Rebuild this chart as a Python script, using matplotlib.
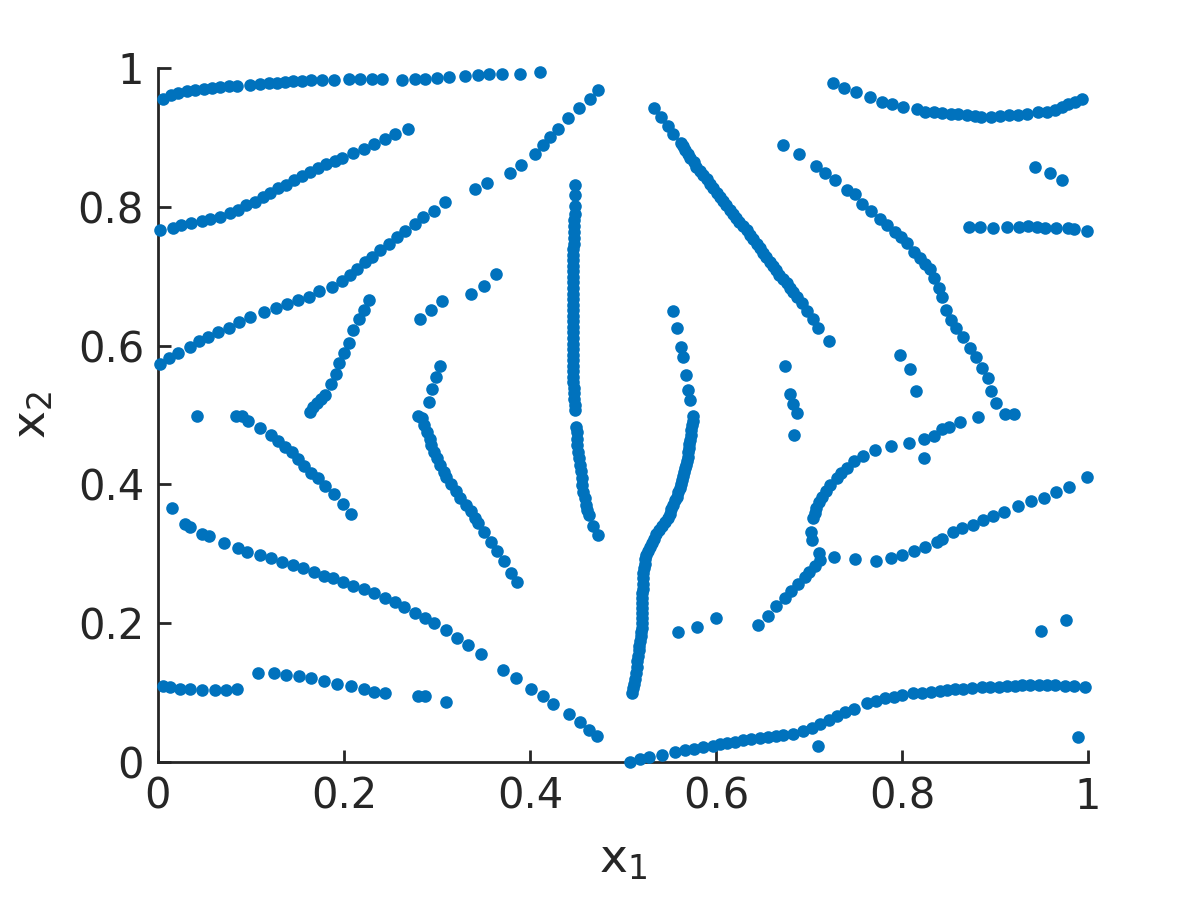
import matplotlib
matplotlib.use("Agg")
import matplotlib.pyplot as plt

# top-left band
a_x = [0.005, 0.014, 0.022, 0.031, 0.040, 0.049, 0.058, 0.067, 0.076, 0.085, 0.099, 0.110,
       0.119, 0.128, 0.137, 0.145, 0.155, 0.165, 0.176, 0.189, 0.205, 0.217, 0.230, 0.241,
       0.262, 0.276, 0.287, 0.300, 0.313, 0.330, 0.344, 0.356, 0.370, 0.389, 0.411]
a_y = [0.956, 0.961, 0.964, 0.967, 0.968, 0.970, 0.971, 0.972, 0.974, 0.974, 0.976, 0.977,
       0.978, 0.979, 0.980, 0.981, 0.981, 0.982, 0.982, 0.982, 0.984, 0.984, 0.984, 0.984,
       0.983, 0.984, 0.984, 0.985, 0.987, 0.989, 0.990, 0.991, 0.991, 0.992, 0.994]

b_x = [0.002, 0.016, 0.025, 0.036, 0.047, 0.056, 0.067, 0.077, 0.086, 0.095, 0.104, 0.113,
       0.120, 0.129, 0.138, 0.146, 0.155, 0.163, 0.172, 0.181, 0.190, 0.198, 0.210, 0.221,
       0.232, 0.244, 0.255, 0.269]
b_y = [0.767, 0.770, 0.774, 0.776, 0.779, 0.782, 0.786, 0.791, 0.796, 0.802, 0.807, 0.814,
       0.820, 0.827, 0.832, 0.839, 0.844, 0.850, 0.856, 0.862, 0.866, 0.871, 0.877, 0.884,
       0.890, 0.898, 0.905, 0.912]

c_x = [0.002, 0.012, 0.022, 0.034, 0.044, 0.054, 0.064, 0.076, 0.087, 0.099, 0.114, 0.127,
       0.139, 0.150, 0.162, 0.173, 0.187, 0.198, 0.206, 0.214, 0.223, 0.230, 0.239, 0.248,
       0.257, 0.266, 0.276, 0.285, 0.297, 0.309, 0.341, 0.354, 0.378, 0.390, 0.405, 0.414,
       0.422, 0.430, 0.441, 0.453, 0.464, 0.473]
c_y = [0.574, 0.582, 0.589, 0.598, 0.606, 0.613, 0.619, 0.626, 0.634, 0.641, 0.648, 0.654,
       0.660, 0.666, 0.670, 0.679, 0.685, 0.693, 0.702, 0.710, 0.720, 0.728, 0.738, 0.747,
       0.757, 0.765, 0.775, 0.785, 0.794, 0.807, 0.825, 0.834, 0.849, 0.860, 0.876, 0.889,
       0.900, 0.912, 0.928, 0.943, 0.956, 0.968]

d_x = [0.282, 0.294, 0.305, 0.337, 0.351, 0.363]
d_y = [0.638, 0.651, 0.664, 0.674, 0.686, 0.703]

e_x = [0.163, 0.167, 0.171, 0.175, 0.180, 0.186, 0.191, 0.195, 0.200, 0.205, 0.210, 0.216,
       0.222, 0.227]
e_y = [0.505, 0.512, 0.517, 0.523, 0.529, 0.544, 0.559, 0.575, 0.589, 0.604, 0.623, 0.638,
       0.651, 0.666]

g_x = [0.042, 0.084, 0.090, 0.097, 0.110, 0.122, 0.129, 0.137, 0.144, 0.151, 0.157, 0.165,
       0.172, 0.180, 0.189, 0.199, 0.208]
g_y = [0.499, 0.499, 0.499, 0.491, 0.481, 0.471, 0.463, 0.454, 0.446, 0.437, 0.427, 0.417,
       0.409, 0.398, 0.386, 0.372, 0.358]

h_x = [0.015, 0.029, 0.034, 0.047, 0.055, 0.071, 0.086, 0.096, 0.110, 0.121, 0.133, 0.145,
       0.156, 0.168, 0.178, 0.188, 0.199, 0.210, 0.221, 0.232, 0.244, 0.255, 0.264, 0.276,
       0.287, 0.297, 0.310, 0.321, 0.333, 0.347, 0.371, 0.385, 0.401, 0.414, 0.425, 0.442,
       0.454, 0.463, 0.472]
h_y = [0.366, 0.343, 0.338, 0.329, 0.326, 0.315, 0.308, 0.303, 0.298, 0.294, 0.288, 0.284,
       0.279, 0.274, 0.268, 0.265, 0.259, 0.253, 0.249, 0.243, 0.236, 0.231, 0.223, 0.214,
       0.207, 0.200, 0.190, 0.178, 0.168, 0.155, 0.133, 0.121, 0.105, 0.095, 0.084, 0.069,
       0.057, 0.046, 0.037]

i_x = [0.005, 0.013, 0.024, 0.034, 0.047, 0.061, 0.073, 0.085]
i_y = [0.109, 0.108, 0.105, 0.105, 0.104, 0.104, 0.104, 0.105]

j_x = [0.107, 0.125, 0.138, 0.152, 0.165, 0.178, 0.193, 0.208, 0.221, 0.232, 0.244, 0.280,
       0.287, 0.310]
j_y = [0.128, 0.128, 0.126, 0.124, 0.121, 0.116, 0.112, 0.110, 0.105, 0.101, 0.099, 0.095,
       0.095, 0.086]

k_x = [0.303, 0.299, 0.295, 0.291, 0.280, 0.284, 0.286, 0.289, 0.292, 0.294, 0.297, 0.300,
       0.303, 0.307, 0.310, 0.315, 0.320, 0.325, 0.331, 0.337, 0.341, 0.344, 0.351, 0.358,
       0.365, 0.372, 0.380, 0.386]
k_y = [0.570, 0.555, 0.538, 0.519, 0.499, 0.496, 0.486, 0.476, 0.466, 0.457, 0.447, 0.438,
       0.428, 0.418, 0.410, 0.401, 0.390, 0.380, 0.370, 0.361, 0.352, 0.344, 0.332, 0.317,
       0.304, 0.289, 0.273, 0.259]

# central vertical
l_x = [0.448, 0.448, 0.448, 0.448, 0.447, 0.447, 0.447, 0.447, 0.447, 0.446, 0.446, 0.446,
       0.446, 0.446, 0.446, 0.446, 0.446, 0.446, 0.446, 0.446, 0.446, 0.446, 0.446, 0.446,
       0.446, 0.446, 0.446, 0.446, 0.446, 0.446, 0.446, 0.446, 0.446, 0.446, 0.447, 0.447,
       0.447, 0.448, 0.448,
       0.449, 0.450, 0.451, 0.451, 0.452, 0.453, 0.454, 0.455, 0.456, 0.456, 0.457, 0.459,
       0.460, 0.461, 0.463, 0.468, 0.473]
l_y = [0.831, 0.817, 0.801, 0.790, 0.781, 0.772, 0.763, 0.755, 0.747, 0.739, 0.731, 0.723,
       0.715, 0.707, 0.699, 0.691, 0.683, 0.675, 0.667, 0.659, 0.651, 0.643, 0.635, 0.627,
       0.619, 0.611, 0.603, 0.595, 0.587, 0.579, 0.571, 0.563, 0.555, 0.547, 0.539, 0.531,
       0.523, 0.515, 0.507,
       0.483, 0.475, 0.466, 0.457, 0.447, 0.438, 0.428, 0.419, 0.409, 0.399, 0.389, 0.380,
       0.370, 0.363, 0.356, 0.340, 0.327]

# long diagonal right of centre
m_x = [0.533, 0.541, 0.548, 0.554, 0.562, 0.565, 0.567, 0.570, 0.572, 0.576, 0.579, 0.583,
       0.586, 0.590, 0.594, 0.597, 0.601, 0.604, 0.608, 0.611, 0.615, 0.618, 0.622, 0.625,
       0.629, 0.633, 0.637, 0.640, 0.644, 0.647, 0.651, 0.654, 0.658, 0.661, 0.665, 0.668,
       0.672, 0.676, 0.680, 0.683, 0.687, 0.692, 0.698, 0.704, 0.710, 0.721]
m_y = [0.943, 0.929, 0.916, 0.905, 0.892, 0.887, 0.882, 0.876, 0.871, 0.865, 0.858, 0.852,
       0.846, 0.840, 0.833, 0.827, 0.820, 0.814, 0.808, 0.802, 0.796, 0.790, 0.784, 0.778,
       0.772, 0.766, 0.760, 0.753, 0.747, 0.741, 0.734, 0.728, 0.721, 0.715, 0.709, 0.702,
       0.696, 0.690, 0.683, 0.677, 0.670, 0.661, 0.650, 0.638, 0.626, 0.606]

n_x = [0.554, 0.558, 0.562, 0.565, 0.568, 0.570, 0.572,
       0.575, 0.575, 0.574, 0.573, 0.573, 0.572, 0.571, 0.571, 0.570, 0.570, 0.569, 0.568,
       0.567, 0.566, 0.565, 0.563, 0.562, 0.561, 0.559, 0.558, 0.556, 0.554, 0.552, 0.550,
       0.548, 0.545, 0.542, 0.539, 0.536, 0.533, 0.531, 0.529, 0.527, 0.525, 0.524, 0.524,
       0.523, 0.522, 0.522, 0.521, 0.521, 0.520, 0.520, 0.520, 0.520, 0.520, 0.520, 0.520,
       0.520, 0.519, 0.519, 0.518, 0.517, 0.517, 0.516, 0.515, 0.515, 0.514, 0.513, 0.512,
       0.511, 0.510]
n_y = [0.650, 0.625, 0.598, 0.583, 0.558, 0.536, 0.521,
       0.499, 0.492, 0.485, 0.478, 0.471, 0.464, 0.458, 0.452, 0.446, 0.440, 0.434, 0.428,
       0.423, 0.418, 0.412, 0.406, 0.400, 0.395, 0.389, 0.382, 0.377, 0.371, 0.365, 0.358,
       0.352, 0.346, 0.340, 0.334, 0.328, 0.322, 0.316, 0.310, 0.304, 0.298, 0.292, 0.286,
       0.279, 0.272, 0.265, 0.257, 0.250, 0.243, 0.236, 0.229, 0.222, 0.214, 0.207, 0.200,
       0.193, 0.187, 0.181, 0.174, 0.167, 0.161, 0.153, 0.145, 0.137, 0.128, 0.120, 0.113,
       0.106, 0.099]

o_x = [0.559, 0.580, 0.600]
o_y = [0.187, 0.195, 0.207]

# lower-right branch and the row running to the right edge
p_x = [0.645, 0.656, 0.665, 0.674, 0.681, 0.688, 0.696, 0.700, 0.706, 0.712,
       0.727, 0.749, 0.772, 0.788, 0.800, 0.813, 0.825, 0.838, 0.843, 0.855, 0.865, 0.876,
       0.887, 0.898, 0.910, 0.925, 0.939, 0.953, 0.966, 0.980, 0.999]
p_y = [0.198, 0.211, 0.225, 0.236, 0.247, 0.256, 0.267, 0.274, 0.283, 0.291,
       0.296, 0.292, 0.290, 0.294, 0.298, 0.304, 0.310, 0.317, 0.321, 0.331, 0.337, 0.342,
       0.349, 0.354, 0.360, 0.369, 0.376, 0.381, 0.389, 0.396, 0.410]

q_x = [0.711, 0.703, 0.702, 0.704, 0.706, 0.708, 0.711, 0.714, 0.718, 0.723, 0.730, 0.734,
       0.741, 0.748, 0.758, 0.771, 0.788, 0.807, 0.824, 0.834, 0.843, 0.850, 0.862, 0.882,
       0.824]
q_y = [0.301, 0.320, 0.332, 0.351, 0.359, 0.366, 0.374, 0.382, 0.390, 0.399, 0.409, 0.416,
       0.424, 0.433, 0.441, 0.450, 0.456, 0.459, 0.465, 0.470, 0.480, 0.482, 0.490, 0.497,
       0.438]

r_x = [0.674, 0.680, 0.683, 0.687, 0.684]
r_y = [0.571, 0.530, 0.516, 0.503, 0.471]

s_x = [0.798, 0.809, 0.815]
s_y = [0.586, 0.567, 0.535]

t_x = [0.672, 0.689, 0.708, 0.717, 0.728, 0.741, 0.749, 0.757, 0.767, 0.776, 0.784, 0.792,
       0.799, 0.805, 0.813, 0.819, 0.825, 0.830, 0.834, 0.840, 0.843, 0.847, 0.853, 0.858,
       0.866, 0.873, 0.880, 0.886, 0.892, 0.896, 0.901, 0.911, 0.920]
t_y = [0.889, 0.876, 0.859, 0.849, 0.839, 0.824, 0.819, 0.804, 0.794, 0.782, 0.774, 0.764,
       0.756, 0.748, 0.735, 0.726, 0.718, 0.710, 0.697, 0.683, 0.670, 0.652, 0.637, 0.626,
       0.612, 0.597, 0.583, 0.568, 0.553, 0.535, 0.517, 0.502, 0.502]

u_x = [0.726, 0.738, 0.750, 0.766, 0.779, 0.789, 0.801, 0.816, 0.825, 0.834, 0.843, 0.853,
       0.860, 0.870, 0.878, 0.885, 0.896, 0.905, 0.915, 0.925, 0.934, 0.946, 0.956, 0.964,
       0.972, 0.979, 0.986, 0.994]
u_y = [0.978, 0.971, 0.965, 0.958, 0.951, 0.948, 0.944, 0.941, 0.937, 0.936, 0.935, 0.933,
       0.933, 0.932, 0.931, 0.930, 0.930, 0.931, 0.932, 0.932, 0.934, 0.936, 0.937, 0.940,
       0.944, 0.948, 0.951, 0.955]

v_x = [0.943, 0.959, 0.972]
v_y = [0.858, 0.848, 0.839]

w_x = [0.872, 0.884, 0.898, 0.913, 0.926, 0.936, 0.945, 0.954, 0.966, 0.979, 0.985, 0.999]
w_y = [0.771, 0.771, 0.770, 0.771, 0.771, 0.772, 0.771, 0.770, 0.770, 0.770, 0.768, 0.765]

# bottom-right band
x_x = [0.508, 0.518, 0.528, 0.542, 0.556, 0.567, 0.576, 0.586, 0.597, 0.604, 0.612, 0.620,
       0.629, 0.638, 0.647, 0.656, 0.665, 0.672, 0.683, 0.694, 0.703, 0.712, 0.721, 0.730,
       0.739, 0.748, 0.762, 0.772, 0.782, 0.791, 0.800, 0.812, 0.821, 0.831, 0.841, 0.848,
       0.857, 0.866, 0.875, 0.886, 0.895, 0.904, 0.913, 0.921, 0.929, 0.938, 0.947, 0.956,
       0.965, 0.975, 0.985, 0.997]
x_y = [0.000, 0.004, 0.007, 0.010, 0.015, 0.017, 0.019, 0.022, 0.023, 0.026, 0.027, 0.029,
       0.031, 0.033, 0.034, 0.036, 0.038, 0.039, 0.041, 0.045, 0.049, 0.055, 0.061, 0.067,
       0.072, 0.077, 0.085, 0.088, 0.092, 0.094, 0.096, 0.099, 0.100, 0.101, 0.102, 0.104,
       0.105, 0.105, 0.106, 0.108, 0.108, 0.108, 0.109, 0.110, 0.111, 0.111, 0.111, 0.111,
       0.111, 0.110, 0.110, 0.108]

# isolated points
iso_x = [0.710, 0.949, 0.976, 0.989]
iso_y = [0.023, 0.189, 0.205, 0.036]

all_x = (a_x + b_x + c_x + d_x + e_x + g_x + h_x + i_x + j_x + k_x + l_x + m_x + n_x + o_x
         + p_x + q_x + r_x + s_x + t_x + u_x + v_x + w_x + x_x + iso_x)
all_y = (a_y + b_y + c_y + d_y + e_y + g_y + h_y + i_y + j_y + k_y + l_y + m_y + n_y + o_y
         + p_y + q_y + r_y + s_y + t_y + u_y + v_y + w_y + x_y + iso_y)

ticks = [0, 0.2, 0.4, 0.6, 0.8, 1]
tick_labels = ['0', '0.2', '0.4', '0.6', '0.8', '1']
axcol = '#262626'

fig = plt.figure(figsize=(12, 9), dpi=100)
ax = fig.add_axes([158 / 1200, 138 / 900, 930 / 1200, 694 / 900])
ax.scatter(all_x, all_y, s=82, c='#0072BD', linewidths=0, clip_on=False, zorder=3)

ax.set_xlim(0, 1)
ax.set_ylim(0, 1)
ax.set_xticks(ticks)
ax.set_xticklabels(tick_labels)
ax.set_yticks(ticks)
ax.set_yticklabels(tick_labels)
ax.tick_params(direction='in', length=9, width=2, colors=axcol, labelsize=30, pad=10)
for side in ['top', 'right']:
    ax.spines[side].set_visible(False)
for side in ['left', 'bottom']:
    ax.spines[side].set_linewidth(2)
    ax.spines[side].set_color(axcol)

ax.set_xlabel(r'$\mathregular{x_1}$', fontsize=34, color=axcol, labelpad=14)
ax.set_ylabel(r'$\mathregular{x_2}$', fontsize=34, color=axcol, labelpad=16)

fig.savefig('out.png', dpi=100)
